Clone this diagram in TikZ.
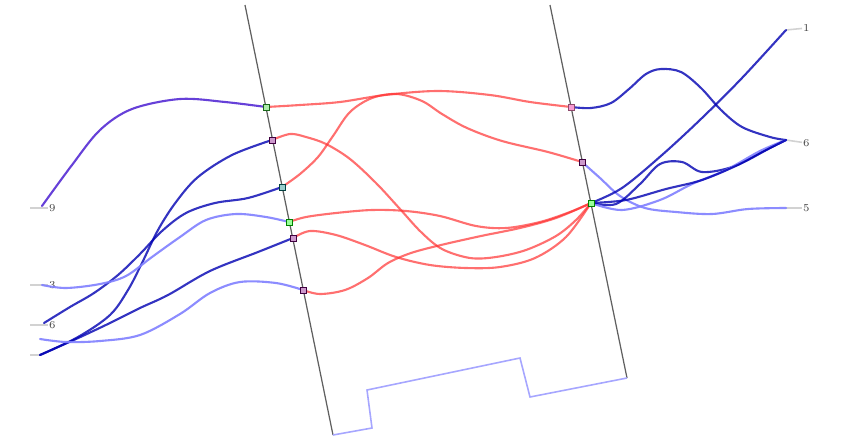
\documentclass[tikz,border=0pt]{standalone}
\usetikzlibrary{positioning}

\begin{document}
\begin{tikzpicture}[x=0.02cm, y=-0.02cm,
    rail/.style={draw=gray!75!black, line width=0.7pt},
    wire/.style={line width=1.2pt, line cap=round, line join=round, smooth, tension=0.55},
    bwire/.style={wire, draw=blue!70!black, draw opacity=0.8},
    lwire/.style={wire, draw=blue!50, draw opacity=0.9},
    rwire/.style={wire, draw=red!80, draw opacity=0.7},
    joint/.style={rectangle, draw=#1!50!black, fill=#1!40, inner sep=0pt, minimum size=3.5pt},
    tag/.style={font=\fontsize{6}{7}\selectfont, text=gray!50!black, inner sep=0.5pt, anchor=west},
    stub/.style={draw=gray!35, line width=0.9pt},
    gap/.style={draw=blue!35, line width=0.9pt}
]

\useasboundingbox (0,0) rectangle (855,440);
\fill[white] (0,0) rectangle (855,440);

% rails
\coordinate (ltop) at (245,5);
\coordinate (lbot) at (333,435);
\coordinate (rtop) at (550,5);
\coordinate (rbot) at (627,378);
\draw[rail] (ltop) -- (lbot);
\draw[rail] (rtop) -- (rbot);
\draw[gap] (lbot) -- (372,428) -- (367,390) -- (520,358) -- (530,397) -- (rbot);

% ends
\coordinate (la) at (42,206);
\coordinate (lb) at (42,285);
\coordinate (lc) at (44,323);
\coordinate (ld) at (40,339);
\coordinate (le) at (40,355);
\coordinate (out1) at (786,30);
\coordinate (out6) at (786,140);
\coordinate (out5) at (786,208);

\node[tag] (t9) at (48,208) {9};
\node[tag] (t3) at (48,285) {3};
\node[tag] (t6l) at (48,325) {6};
\node[tag] (t1) at (802,28) {1};
\node[tag] (t6) at (802,143) {6};
\node[tag] (t5) at (802,208) {5};
\coordinate (s9) at (30,208);
\coordinate (s3) at (30,285);
\coordinate (s6l) at (30,325);
\coordinate (sb) at (30,355);
\draw[stub] (s9) -- (t9);
\draw[stub] (s3) -- (t3);
\draw[stub] (s6l) -- (t6l);
\draw[stub] (sb) -- (le);
\draw[stub] (out1) -- (t1);
\draw[stub] (out6) -- (t6);
\draw[stub] (out5) -- (t5);

% junctions
\coordinate (j1) at (266,107);
\coordinate (j2) at (272,140);
\coordinate (j3) at (282,187);
\coordinate (j4) at (289,222);
\coordinate (j5) at (293,238);
\coordinate (j6) at (303,290);
\coordinate (k1) at (571,107);
\coordinate (k2) at (582,162);
\coordinate (k3) at (591,203);

% left side
\draw[wire, draw=blue!60!violet, draw opacity=0.75] plot coordinates {(la) (72,165) (100,130) (132,109) (180,99) (225,102) (j1)};
\draw[bwire] plot coordinates {(le) (78,337) (110,315) (128,290) (142,263) (158,230) (176,202) (198,177) (232,155) (j2)};
\draw[bwire] plot coordinates {(lc) (70,307) (94,293) (118,275) (140,254) (162,231) (186,213) (215,203) (248,198) (j3)};
\draw[lwire] plot coordinates {(lb) (66,288) (100,284) (126,276) (152,257) (180,237) (206,220) (236,214) (266,217) (j4)};
\draw[bwire] plot coordinates {(le) (76,339) (110,323) (140,308) (168,295) (210,271) (258,252) (j5)};
\draw[lwire] plot coordinates {(ld) (66,342) (100,341) (140,335) (180,314) (210,293) (240,282) (276,283) (j6)};

% middle
\draw[rwire] plot coordinates {(j1) (300,105) (340,102) (385,95) (438,91) (490,95) (530,102) (k1)};
\draw[rwire] plot coordinates {(j3) (300,174) (318,157) (333,136) (350,112) (372,98) (397,94) (422,101) (442,114) (467,128) (502,141) (548,152) (k2)};
\draw[rwire] plot coordinates {(j2) (290,134) (306,137) (326,144) (350,159) (376,183) (400,209) (421,232) (442,249) (470,258) (496,257) (526,250) (556,236) (576,220) (k3)};
\draw[rwire] plot coordinates {(j4) (306,217) (336,213) (372,210) (406,211) (440,216) (476,226) (506,228) (540,222) (570,212) (k3)};
\draw[rwire] plot coordinates {(j5) (310,231) (336,235) (365,245) (396,257) (430,265) (466,268) (500,267) (535,258) (566,237) (k3)};
\draw[rwire] plot coordinates {(j6) (320,294) (345,290) (368,278) (388,263) (411,253) (441,245) (481,236) (520,228) (556,218) (k3)};

% right side
\draw[bwire] plot coordinates {(k1) (591,108) (611,103) (629,89) (646,74) (661,69) (681,72) (701,88) (721,110) (742,127) (770,137) (out6)};
\draw[lwire] plot coordinates {(k2) (600,178) (620,196) (645,208) (676,212) (712,214) (748,209) (out5)};
\draw[bwire] plot coordinates {(k3) (622,188) (662,155) (702,118) (742,78) (out1)};
\draw[bwire] plot coordinates {(k3) (616,204) (640,184) (660,164) (682,162) (702,172) (732,167) (762,152) (out6)};
\draw[lwire] plot coordinates {(k3) (622,210) (660,200) (692,184) (726,170) (760,151) (out6)};
\draw[bwire] plot coordinates {(k3) (626,200) (666,189) (702,180) (740,164) (770,148) (out6)};

% joint marks
\node[joint=green!60!gray] (m1) at (j1) {};
\node[joint=violet] (m2) at (j2) {};
\node[joint=teal] (m3) at (j3) {};
\node[joint=green] (m4) at (j4) {};
\node[joint=violet] (m5) at (j5) {};
\node[joint=violet] (m6) at (j6) {};
\node[joint=magenta] (n1) at (k1) {};
\node[joint=violet] (n2) at (k2) {};
\node[joint=green] (n3) at (k3) {};

\end{tikzpicture}
\end{document}
